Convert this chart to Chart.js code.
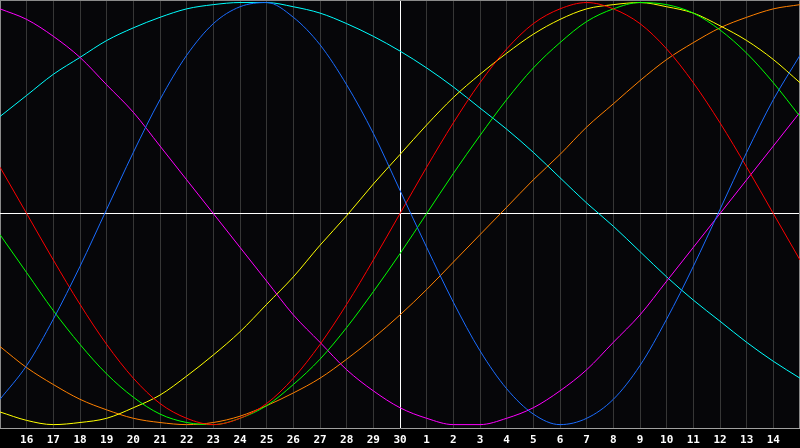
<!DOCTYPE html>
<html>
<head>
<meta charset="utf-8">
<script src="https://cdn.jsdelivr.net/npm/chart.js@4/dist/chart.umd.min.js"></script>
<style>
html,body{margin:0;padding:0;background:#000;}
#c{display:block;}
</style>
</head>
<body>
<canvas id="c" width="800" height="448"></canvas>
<script>
const days = ['15','16','17','18','19','20','21','22','23','24','25','26','27','28','29','30','1','2','3','4','5','6','7','8','9','10','11','12','13','14','15'];
const todayIndex = 15;

const physical23 = [-88,-72,-50,-25,2,29,54,75,90,98,100,93,80,61,38,11,-16,-42,-65,-83,-95,-100,-97,-88,-72,-50,-25,2,29,54,75];
const emotional28 = [22,0,-22,-43,-62,-78,-90,-97,-100,-97,-90,-78,-62,-43,-22,0,22,43,62,78,90,97,100,97,90,78,62,43,22,0,-22];
const intellectual33 = [-10,-28,-46,-62,-76,-87,-95,-99,-100,-97,-91,-81,-69,-54,-37,-19,0,19,37,54,69,81,91,97,100,99,95,87,76,62,46];
const intuitive38 = [97,92,84,74,61,48,32,16,0,-16,-32,-48,-61,-74,-84,-92,-97,-100,-100,-97,-92,-84,-74,-61,-48,-32,-16,0,16,32,48];
const aesthetic43 = [-94,-98,-100,-99,-97,-92,-86,-77,-67,-56,-43,-30,-15,-1,14,28,42,55,66,76,85,92,97,99,100,98,95,89,82,73,62];
const awareness48 = [-63,-73,-81,-88,-93,-97,-99,-100,-99,-96,-91,-85,-78,-69,-59,-48,-36,-23,-10,3,16,28,41,52,63,73,81,88,93,97,99];
const spiritual53 = [46,56,66,74,82,88,93,97,99,100,100,98,95,90,84,77,69,60,50,40,29,17,5,-6,-18,-30,-41,-51,-61,-70,-78];

const seriesNames = ['Physical','Emotional','Intellectual','Intuitive','Aesthetic','Awareness','Spiritual'];
const seriesData = [physical23, emotional28, intellectual33, intuitive38, aesthetic43, awareness48, spiritual53];
const seriesColors = ['#1a6cff','#ff0000','#00ff00','#ff00ff','#ffff00','#ff8000','#00ffff'];

const bgPlugin = {
  id: 'bg',
  beforeDraw(chart) {
    const {ctx, chartArea:a} = chart;
    ctx.save();
    ctx.fillStyle = '#000000';
    ctx.fillRect(0, 0, chart.width, chart.height);
    ctx.fillStyle = '#060609';
    ctx.fillRect(a.left, a.top, a.right - a.left, a.bottom - a.top);
    ctx.restore();
  },
  beforeDatasetsDraw(chart) {
    const {ctx, chartArea:a} = chart;
    ctx.save();
    ctx.strokeStyle = '#8a8a8a';
    ctx.lineWidth = 1;
    ctx.beginPath();
    ctx.moveTo(a.left, a.top + 0.5);
    ctx.lineTo(a.right, a.top + 0.5);
    ctx.moveTo(a.right - 0.5, a.top);
    ctx.lineTo(a.right - 0.5, a.bottom);
    ctx.stroke();
    ctx.restore();
  }
};

new Chart(document.getElementById('c'), {
  type: 'line',
  data: {
    labels: days,
    datasets: seriesData.map((d, k) => ({
      label: seriesNames[k],
      data: d,
      borderColor: seriesColors[k],
      borderWidth: 1,
      pointRadius: 0,
      cubicInterpolationMode: 'monotone',
      fill: false
    }))
  },
  options: {
    responsive: false,
    devicePixelRatio: 1,
    animation: false,
    events: [],
    layout: { padding: 0 },
    plugins: { legend: { display: false }, tooltip: { enabled: false } },
    scales: {
      x: {
        type: 'category',
        offset: false,
        afterFit(scale) { scale.height = 20; scale.paddingLeft = 0; scale.paddingRight = 0; },
        grid: {
          drawTicks: false,
          lineWidth: 1,
          color: (c) => c.index === todayIndex ? '#ffffff' : ((c.index === 0 || c.index === days.length - 1) ? '#8a8a8a' : '#363636')
        },
        border: { display: true, color: '#a0a0a0', width: 1 },
        ticks: {
          autoSkip: false,
          maxRotation: 0,
          minRotation: 0,
          padding: 6,
          color: '#ffffff',
          font: { family: 'DejaVu Sans Mono', size: 11, weight: 'bold' },
          callback: (v, i) => (i === 0 || i === days.length - 1) ? '' : days[i]
        }
      },
      y: {
        min: -101.6,
        max: 101.2,
        afterFit(scale) { scale.width = 0; },
        afterBuildTicks(scale) { scale.ticks = [{ value: 0 }]; },
        grid: { drawTicks: false, color: '#ffffff', lineWidth: 1 },
        border: { display: false },
        ticks: { display: false }
      }
    }
  },
  plugins: [bgPlugin]
});
</script>
</body>
</html>
